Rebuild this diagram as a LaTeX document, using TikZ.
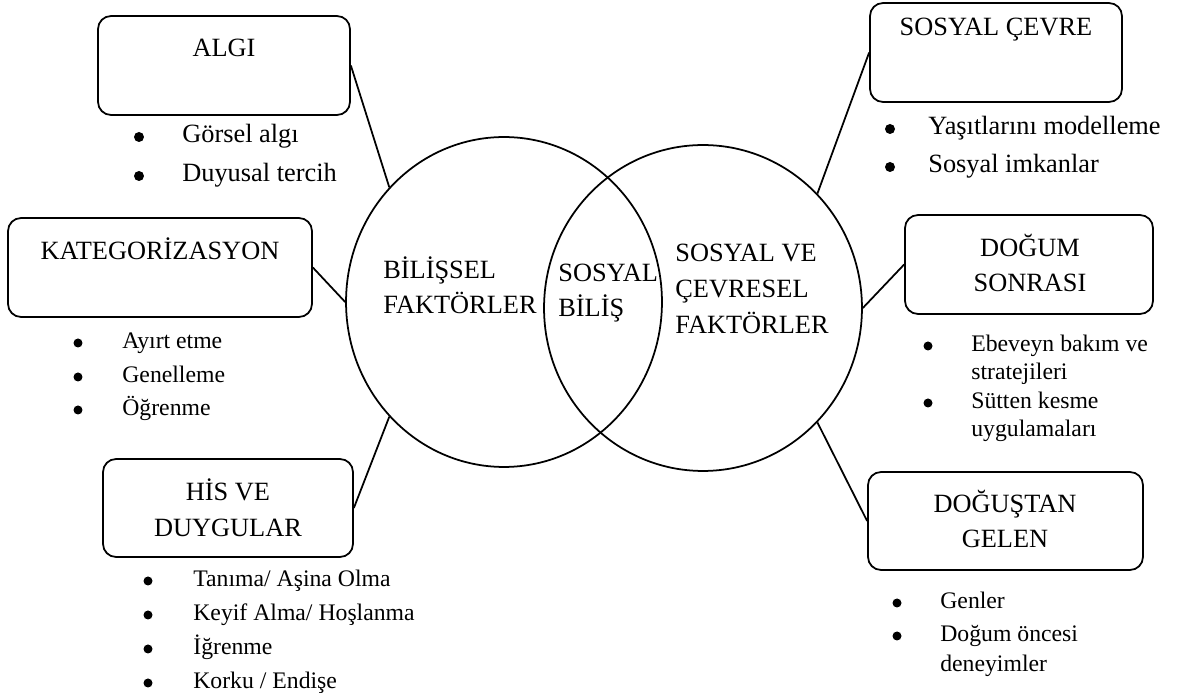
\documentclass[tikz,border=0pt]{standalone}
\usepackage{fontspec}
\setmainfont{Liberation Serif}
\usetikzlibrary{shapes.geometric}
\newcommand{\bigf}{\fontsize{15}{20}\selectfont}
\newcommand{\smallf}{\fontsize{13.5}{16}\selectfont}
\tikzset{
  ln/.style={line width=1pt},
  box/.style={draw, line width=1pt, rounded corners=0.26cm, inner sep=0pt},
  circ/.style={draw, line width=1pt, ellipse, inner sep=0pt},
  ttl/.style={font=\bigf, inner sep=0pt, anchor=base},
  ttlw/.style={font=\bigf, inner sep=0pt, anchor=base west},
  itb/.style={font=\bigf, inner sep=0pt, anchor=base west},
  its/.style={font=\smallf, inner sep=0pt, anchor=base west},
  dotb/.style={circle, fill=black, inner sep=0pt, minimum size=0.2cm},
  dots/.style={circle, fill=black, inner sep=0pt, minimum size=0.18cm},
}
\begin{document}
\begin{tikzpicture}[x=0.02cm, y=-0.02cm]
\useasboundingbox (0,0) rectangle (1181,695);
% circles
\node[circ, minimum width=6.32cm, minimum height=6.6cm] (L) at (504,302) {};
\node[circ, minimum width=6.36cm, minimum height=6.52cm] (R) at (703,308) {};
% boxes
\node[box, minimum width=5.04cm, minimum height=1.98cm] (algi) at (224,65.5) {};
\node[box, minimum width=6.08cm, minimum height=1.98cm] (kat) at (160,267.5) {};
\node[box, minimum width=5.0cm, minimum height=1.96cm] (his) at (228,508) {};
\node[box, minimum width=5.04cm, minimum height=1.98cm] (sc) at (996,52.5) {};
\node[box, minimum width=4.96cm, minimum height=1.98cm] (ds) at (1029,264.5) {};
\node[box, minimum width=5.5cm, minimum height=1.96cm] (dg) at (1005.5,521) {};
% connectors
\draw[ln] (algi.east) -- (L.135);
\draw[ln] (kat.east) -- (L.180);
\draw[ln] (his.east) -- (L.225);
\draw[ln] (sc.west) -- (R.45);
\draw[ln] (ds.west) -- (R.0);
\draw[ln] (dg.west) -- (R.315);
% box titles
\node[ttl] (talgi) at (224,57) {ALGI};
\node[ttl] (tkat) at (160,260) {KATEGORİZASYON};
\node[ttl] (this1) at (228,501) {HİS VE};
\node[ttl] (this2) at (228,537) {DUYGULAR};
\node[ttl] (tsc) at (996,36) {SOSYAL ÇEVRE};
\node[ttl] (tds1) at (1030,257) {DOĞUM};
\node[ttl] (tds2) at (1030,292) {SONRASI};
\node[ttl] (tdg1) at (1005,513) {DOĞUŞTAN};
\node[ttl] (tdg2) at (1005,548) {GELEN};
% circle texts
\node[ttlw] (c1) at (383,279) {BİLİŞSEL};
\node[ttlw] (c2) at (383,314) {FAKTÖRLER};
\node[ttlw] (c3) at (558,282) {SOSYAL};
\node[ttlw] (c4) at (558,317) {BİLİŞ};
\node[ttlw] (c5) at (675,262) {SOSYAL VE};
\node[ttlw] (c6) at (675,298) {ÇEVRESEL};
\node[ttlw] (c7) at (675,334) {FAKTÖRLER};
% ALGI items
\node[dotb] (ba1) at (139,137) {};
\node[itb] (ia1) at (182,143) {Görsel algı};
\node[dotb] (ba2) at (139,176) {};
\node[itb] (ia2) at (182,182) {Duyusal tercih};
% KAT items
\node[dots] (bk1) at (78,343) {};
\node[its] (ik1) at (122,349) {Ayırt etme};
\node[dots] (bk2) at (78,377) {};
\node[its] (ik2) at (122,383) {Genelleme};
\node[dots] (bk3) at (78,410) {};
\node[its] (ik3) at (122,416) {Öğrenme};
% HIS items
\node[dots] (bh1) at (148,581) {};
\node[its] (ih1) at (193,587) {Tanıma/ Aşina Olma};
\node[dots] (bh2) at (148,615) {};
\node[its] (ih2) at (193,621) {Keyif Alma/ Hoşlanma};
\node[dots] (bh3) at (148,649) {};
\node[its] (ih3) at (193,655) {İğrenme};
\node[dots] (bh4) at (148,683) {};
\node[its] (ih4) at (193,689) {Korku / Endişe};
% SOSYAL CEVRE items
\node[dotb] (bs1) at (890,129) {};
\node[itb] (is1) at (928,135) {Yaşıtlarını modelleme};
\node[dotb] (bs2) at (890,167) {};
\node[itb] (is2) at (928,173) {Sosyal imkanlar};
% DOGUM SONRASI items
\node[dots] (bd1) at (928,346) {};
\node[its] (id1) at (971,352) {Ebeveyn bakım ve};
\node[its] (id2) at (971,380) {stratejileri};
\node[dots] (bd2) at (928,403) {};
\node[its] (id3) at (971,409) {Sütten kesme};
\node[its] (id4) at (971,437) {uygulamaları};
% DOGUSTAN items
\node[dots] (bg1) at (897,603) {};
\node[its] (ig1) at (940,609) {Genler};
\node[dots] (bg2) at (897,636) {};
\node[its] (ig2) at (940,642) {Doğum öncesi};
\node[its] (ig3) at (940,672) {deneyimler};
\end{tikzpicture}
\end{document}
